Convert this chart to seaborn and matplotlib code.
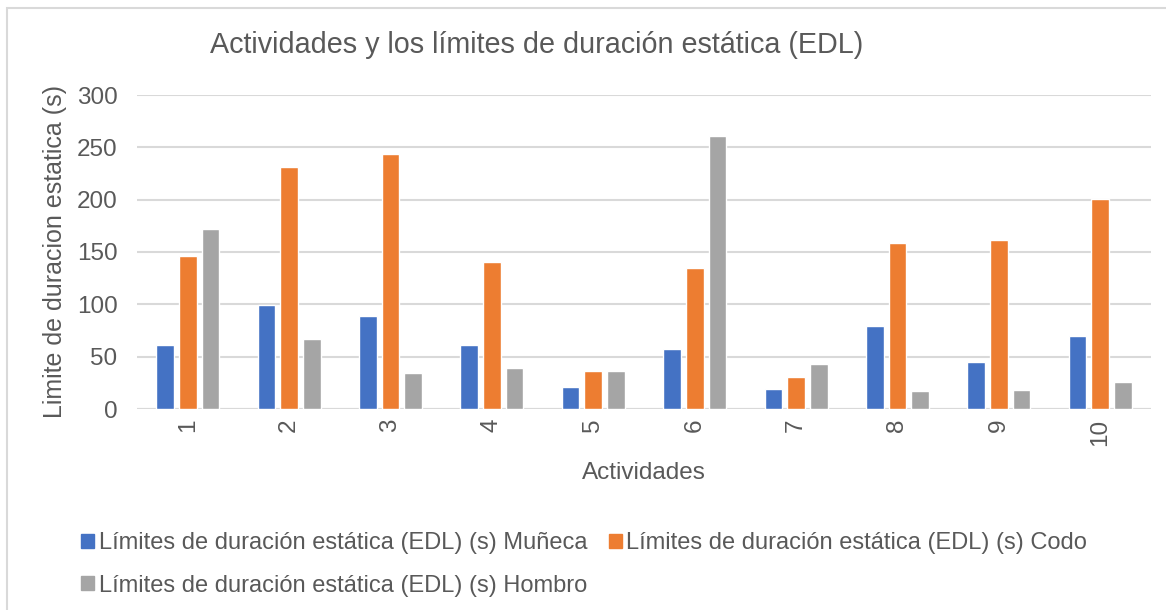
import pandas as pd
import matplotlib
matplotlib.use('Agg')
import matplotlib.pyplot as plt
import seaborn as sns
from matplotlib.patches import Rectangle

# Data
actividades = ['1', '2', '3', '4', '5', '6', '7', '8', '9', '10']
muneca = [61, 99, 89, 61, 21, 57, 19, 79, 45, 70]
codo = [146, 231, 244, 140, 36, 135, 31, 159, 161, 201]
hombro = [172, 67, 34, 39, 36, 261, 43, 17, 18, 26]

series_names = [
    'Límites de duración estática (EDL) (s) Muñeca',
    'Límites de duración estática (EDL) (s) Codo',
    'Límites de duración estática (EDL) (s) Hombro',
]
colors = ['#4472C4', '#ED7D31', '#A5A5A5']
text_col = '#595959'

df = pd.DataFrame({
    'Actividad': actividades * 3,
    'valor': muneca + codo + hombro,
    'serie': [series_names[0]] * 10 + [series_names[1]] * 10 + [series_names[2]] * 10,
})

sns.set_theme(style='white')
plt.rcParams['font.family'] = ['Liberation Sans', 'DejaVu Sans']

fig = plt.figure(figsize=(11.66, 6.10), dpi=100)
ax = fig.add_axes([137 / 1166, 1 - 409 / 610, (1151 - 137) / 1166, (409 - 95) / 610])

sns.barplot(data=df, x='Actividad', y='valor', hue='serie', hue_order=series_names,
            palette=colors, order=actividades, width=0.67, gap=0.22,
            saturation=1, ax=ax, legend=False, errorbar=None)

ax.set_ylim(0, 300)
ax.set_xlim(-0.5, 9.5)
ax.set_yticks(range(0, 301, 50))
ax.yaxis.grid(True, color='#d9d9d9', linewidth=1.5)
ax.set_axisbelow(True)
for s in ['top', 'right', 'left', 'bottom']:
    ax.spines[s].set_visible(False)
ax.axhline(0, color='#d9d9d9', linewidth=1.5, zorder=0)
ax.tick_params(axis='both', length=0, colors=text_col, labelsize=17.5)
ax.tick_params(axis='y', pad=14)
ax.tick_params(axis='x', pad=7)
plt.setp(ax.get_xticklabels(), rotation=90)

ax.set_xlabel('Actividades', fontsize=17.5, color=text_col)
ax.set_ylabel('Limite de duracion estatica (s)', fontsize=18, color=text_col)
ax.xaxis.set_label_coords(0.5, (409 - 462) / 314)
ax.yaxis.set_label_coords((55 - 137) / 1014, 0.5)
ax.yaxis.label.set_va('center')

fig.text(537 / 1166, 1 - 45 / 610, 'Actividades y los límites de duración estática (EDL)',
         ha='center', va='center', fontsize=20.7, color=text_col)

# legend, Excel style: row 1 Muñeca, Codo; row 2 Hombro
handles = [Rectangle((0, 0), 1, 1, color=c) for c in colors]
order = [0, 2, 1]
leg = fig.legend([handles[i] for i in order], [series_names[i] for i in order],
                 ncol=2, loc='upper left', bbox_to_anchor=(60 / 1166, 1 - 511 / 610),
                 frameon=False, fontsize=17, handlelength=0.55, handleheight=0.55,
                 handletextpad=0.2, columnspacing=0.9, labelspacing=0.86,
                 labelcolor=text_col)

# chart area border
fig.patches.append(Rectangle((7 / 1166, -0.01), 1.02, 1 - 8 / 610 + 0.01,
                             transform=fig.transFigure, fill=False,
                             edgecolor='#d9d9d9', linewidth=1.5))

fig.savefig('out.png', dpi=100, facecolor='white')
